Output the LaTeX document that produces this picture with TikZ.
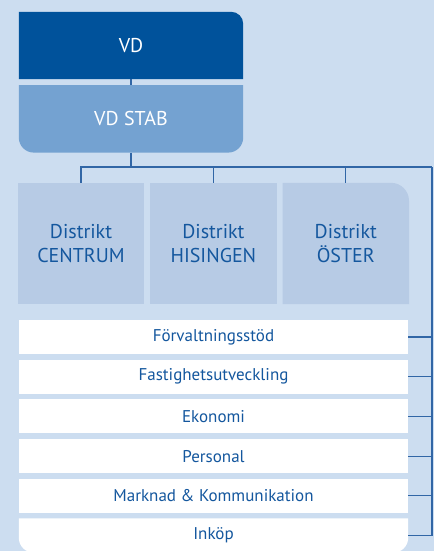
\documentclass[tikz,border=0pt]{standalone}
\usepackage{fontspec}
\setmainfont{PT Sans}
\usepackage{xcolor}
\usepackage{tikz}
\usetikzlibrary{positioning, backgrounds}
\definecolor{vdblue}{HTML}{00529B}
\definecolor{stabblue}{HTML}{74A2D1}
\definecolor{distblue}{HTML}{B7CBE5}
\definecolor{pageblue}{HTML}{CCDDF0}
\definecolor{textblue}{HTML}{14579E}
\definecolor{lineblue}{HTML}{3166A6}
\tikzstyle{head} = [rectangle, minimum width=224pt, minimum height=67pt, inner sep=0pt, text=white, font=\fontsize{20}{24}\selectfont]
\tikzstyle{district} = [rectangle, minimum width=126pt, minimum height=121pt, inner sep=0pt, align=center, text=textblue, font=\fontsize{20}{24.3}\selectfont]
\tikzstyle{staff} = [rectangle, minimum width=389pt, minimum height=34pt, inner sep=0pt, text=textblue, font=\fontsize{17}{19}\selectfont]
\tikzstyle{link} = [lineblue, line width=1.2pt]

\begin{document}
\begin{tikzpicture}[x=1pt, y=1pt, node distance=6pt]
  \useasboundingbox (0,0) rectangle (434,-551);
  % nodes
    \node (vd) [head] at (131,-45.5) {VD};
    \node (stab) [head, below = of vd] {VD STAB};
    \node (centrum) [district] at (81,-243.5) {Distrikt\\CENTRUM};
    \node (hisingen) [district, right = of centrum] {Distrikt\\HISINGEN};
    \node (oster) [district, right = of hisingen] {Distrikt\\ÖSTER};
    \node (forvaltning) [staff, fill=white] at (213.5,-337) {Förvaltningsstöd};
    \node (fastighet) [staff, fill=white, below = 5.3pt of forvaltning] {Fastighetsutveckling};
    \node (ekonomi) [staff, fill=white, below = 5.3pt of fastighet] {Ekonomi};
    \node (personal) [staff, fill=white, below = 5.3pt of ekonomi] {Personal};
    \node (marknad) [staff, fill=white, below = 5.3pt of personal] {Marknad \& Kommunikation};
    \node (inkop) [staff, below = 5.3pt of marknad] {Inköp};
    \coordinate (rail) at (432,-167);
  % boxes
    \begin{scope}[on background layer]
      \fill[pageblue] (0,0) rectangle (434,-551);
      \fill[vdblue] (vd.south west) -- (vd.north west) -- ([xshift=-12pt]vd.north east)
        arc[start angle=90, end angle=0, radius=12pt] -- (vd.south east) -- cycle;
      \fill[stabblue] (stab.north west) -- (stab.north east) -- ([yshift=15pt]stab.south east)
        arc[start angle=0, end angle=-90, radius=15pt] -- ([xshift=15pt]stab.south west)
        arc[start angle=270, end angle=180, radius=15pt] -- cycle;
      \fill[distblue] (centrum.south west) rectangle (centrum.north east);
      \fill[distblue] (hisingen.south west) rectangle (hisingen.north east);
      \fill[distblue] (oster.south west) -- (oster.north west) -- ([xshift=-18pt]oster.north east)
        arc[start angle=90, end angle=0, radius=18pt] -- (oster.south east) -- cycle;
      \fill[white] (inkop.north west) -- (inkop.north east) -- ([yshift=15pt]inkop.south east)
        arc[start angle=0, end angle=-90, radius=15pt] -- ([xshift=15pt]inkop.south west)
        arc[start angle=270, end angle=180, radius=15pt] -- cycle;
    \end{scope}
  % lines
    \draw [link] (vd.south) -- (stab.north);
    \draw [link] (stab.south) |- (rail);
    \foreach \d in {centrum, hisingen, oster}
      \draw [link] (\d.north) |- (rail);
    \foreach \s in {forvaltning, fastighet, ekonomi, personal, marknad, inkop}
      \draw [link] (\s.east) -| (rail);
\end{tikzpicture}
\end{document}
